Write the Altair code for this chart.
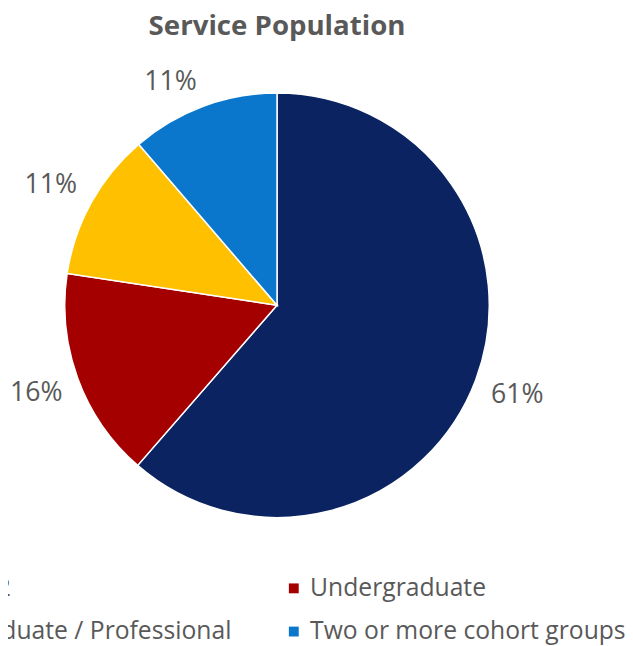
import altair as alt
import pandas as pd

categories = ["K-12", "Undergraduate", "Graduate / Professional", "Two or more cohort groups"]
shares = [61.4, 16.0, 11.3, 11.3]
colors = ["#0b2461", "#a50000", "#ffc000", "#0a77cc"]

df = pd.DataFrame({"group": categories, "share": shares, "order": list(range(len(categories)))})

PIE_R = 215

color_enc = alt.Color(
    "group:N",
    scale=alt.Scale(domain=categories, range=colors),
    sort=categories,
    legend=alt.Legend(
        orient="none",
        legendX=-78,
        legendY=511,
        columns=2,
        direction="horizontal",
        title=None,
        symbolType="square",
        symbolSize=100,
        symbolStrokeWidth=0,
        labelFontSize=25,
        labelFont="Open Sans",
        labelColor="#595959",
        labelOffset=4,
        columnPadding=50,
        rowPadding=18,
        labelLimit=500,
    ),
)

arcs = alt.Chart(df).mark_arc(radius=PIE_R, stroke="white", strokeWidth=1.5).encode(
    theta=alt.Theta("share:Q", stack=True),
    order=alt.Order("order:Q"),
    color=color_enc,
)

# Excel-like "outside end" placement: inner corner of the label box sits
# just outside the rim on the slice's middle angle.
labels = alt.Chart(df).transform_window(
    cum="sum(share)", sort=[alt.SortField("order")]
).transform_joinaggregate(
    total="sum(share)"
).transform_calculate(
    label="format(datum.share, '.0f') + '%'",
    mid="2 * PI * (datum.cum - datum.share / 2) / datum.total",
).transform_calculate(
    lx="230 * sin(datum.mid) + (sin(datum.mid) >= 0 ? 28 : -28)",
    ly="-230 * cos(datum.mid) + (cos(datum.mid) >= 0 ? -10 : 10)",
).transform_calculate(
    lt="(atan2(datum.lx, -datum.ly) + 2 * PI) % (2 * PI)",
    lr="sqrt(datum.lx * datum.lx + datum.ly * datum.ly)",
).mark_text(
    fontSize=27, font="Open Sans", color="#595959", align="center", baseline="middle"
).encode(
    theta=alt.Theta("lt:Q", stack=None, scale=alt.Scale(domain=[0, 6.283185307179586], range=[0, 6.283185307179586])),
    radius=alt.Radius("lr:Q", scale=None),
    text="label:N",
)

chart = alt.layer(arcs, labels).resolve_scale(
    theta="independent"
).properties(
    width=545,
    height=474,
    title=alt.TitleParams(
        "Service Population",
        font="Open Sans",
        fontSize=28,
        fontWeight="bold",
        color="#595959",
        anchor="middle",
        dy=-24,
    ),
    autosize=alt.AutoSizeParams(type="none"),
    padding={"left": 0, "top": 60, "right": 80, "bottom": 104},
    background="white",
).configure_view(stroke=None)

chart.save("out.html", embed_options={"renderer": "svg", "actions": False})
